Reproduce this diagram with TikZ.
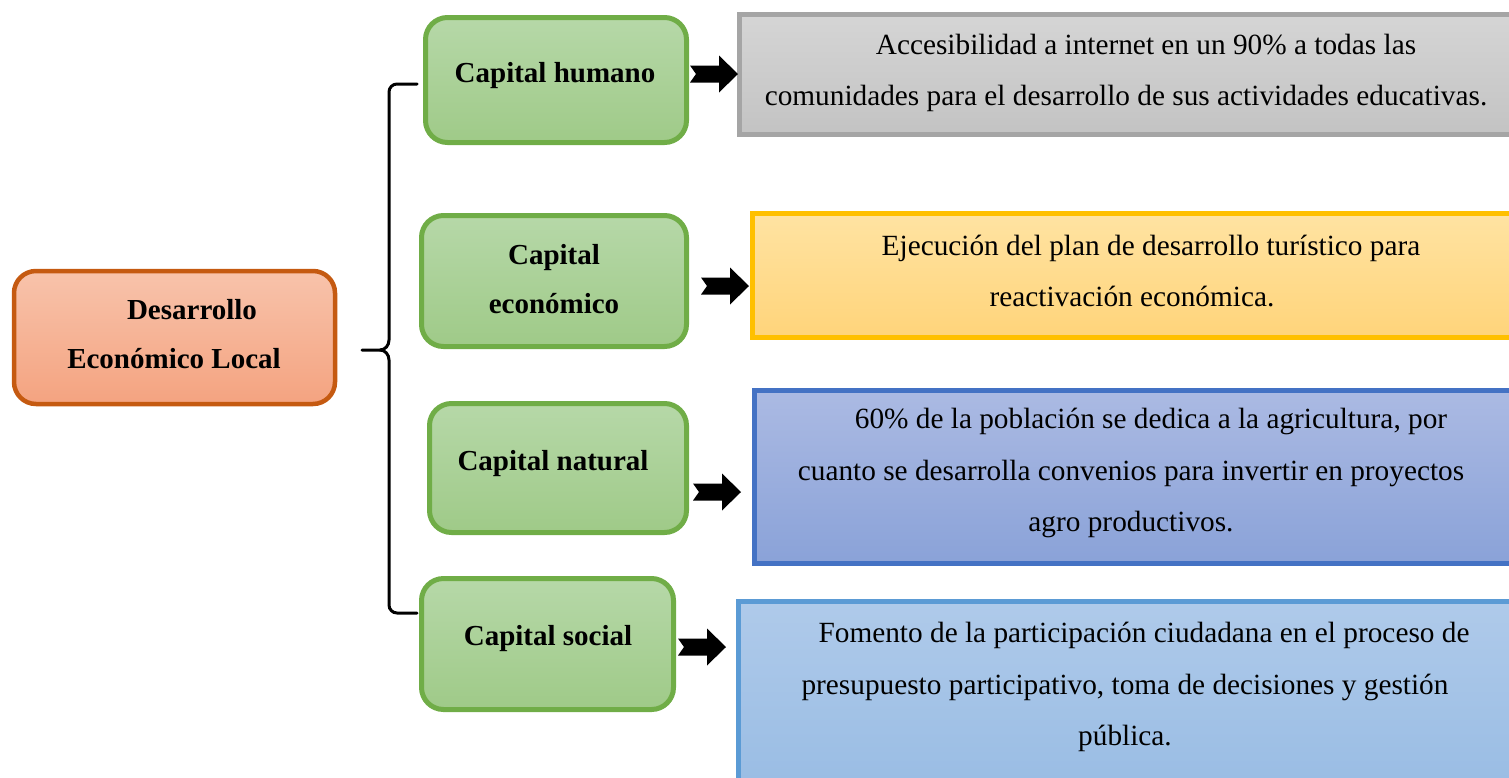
\documentclass[tikz,border=0pt]{standalone}
\usepackage{fontspec}
\setmainfont{Liberation Serif}
\definecolor{cgreen}{HTML}{70AD47}
\definecolor{cgreenT}{HTML}{B6D8A8}
\definecolor{cgreenB}{HTML}{9FCA88}
\definecolor{corange}{HTML}{C55A11}
\definecolor{corangeT}{HTML}{F8C3AB}
\definecolor{corangeB}{HTML}{F4A380}
\definecolor{cgray}{HTML}{A5A5A5}
\definecolor{cgrayT}{HTML}{D5D5D5}
\definecolor{cgrayB}{HTML}{C3C3C3}
\definecolor{cyel}{HTML}{FFC000}
\definecolor{cyelT}{HTML}{FFE3A2}
\definecolor{cyelB}{HTML}{FFD47A}
\definecolor{cblue}{HTML}{4472C4}
\definecolor{cblueT}{HTML}{ABBAE3}
\definecolor{cblueB}{HTML}{8AA2D8}
\definecolor{clblue}{HTML}{5B9BD5}
\definecolor{clblueT}{HTML}{AFCAEA}
\definecolor{clblueB}{HTML}{9ABDE4}
\begin{document}
\begin{tikzpicture}[x=1pt,y=-1pt,
  gbox/.style={draw=cgreen, line width=5pt, rounded corners=22pt, top color=cgreenT, bottom color=cgreenB, inner sep=0pt},
  obox/.style={draw=corange, line width=4.5pt, rounded corners=22pt, top color=corangeT, bottom color=corangeB, inner sep=0pt},
  rbox/.style={line width=5pt, inner sep=0pt},
  lbl/.style={font=\fontsize{29}{49.5}\selectfont\bfseries, align=center, inner sep=0pt},
  body/.style={font=\fontsize{29.3}{51.5}\selectfont, align=center, inner sep=0pt},
  blockarrow/.pic={\fill[black] (0,-8.5) -- (6,0) -- (0,8.5) -- (29,8.5) -- (29,18.5) -- (48,0) -- (29,-18.5) -- (29,-8.5) -- cycle;}
]
\useasboundingbox (0,0) rectangle (1509,777);

% left box
\node[obox, minimum width=321pt, minimum height=133pt] (del) at (174.5,337.5) {};
\node[lbl] (delt) at (174,334) {\hspace*{36pt}Desarrollo\\Económico Local};

% green boxes
\node[gbox, minimum width=261pt, minimum height=125pt] (hum) at (556,80) {};
\node[gbox, minimum width=265pt, minimum height=131pt] (eco) at (554,281) {};
\node[gbox, minimum width=257pt, minimum height=129pt] (nat) at (558,468) {};
\node[gbox, minimum width=252pt, minimum height=131pt] (soc) at (547.5,644) {};
\node[lbl] (humt) at (555,76) {Capital humano};
\node[lbl] (ecot) at (554,279) {Capital\\económico};
\node[lbl] (natt) at (553,464) {Capital natural};
\node[lbl] (soct) at (548,639) {Capital social};

% right boxes
\node[rbox, draw=cgray, top color=cgrayT, bottom color=cgrayB, minimum width=775.5pt, minimum height=120pt] (r1) at (1127.25,74.5) {};
\node[rbox, draw=cyel, top color=cyelT, bottom color=cyelB, minimum width=762.5pt, minimum height=124pt] (r2) at (1133.75,275.5) {};
\node[rbox, draw=cblue, top color=cblueT, bottom color=cblueB, minimum width=760.5pt, minimum height=173pt] (r3) at (1134.75,477) {};
\node[rbox, draw=clblue, top color=clblueT, bottom color=clblueB, minimum width=776.5pt, minimum height=180pt] (r4) at (1126.75,691.5) {};

\node[body] (r1t) at (1126,73) {\hspace*{40pt}Accesibilidad a internet en un 90\% a todas las\\comunidades para el desarrollo de sus actividades educativas.};
\node[body] (r2t) at (1132,271) {\hspace*{38pt}Ejecución del plan de desarrollo turístico para\\reactivación económica.};
\node[body] (r3t) at (1131,473) {\hspace*{40pt}60\% de la población se dedica a la agricultura, por\\cuanto se desarrolla convenios para invertir en proyectos\\agro productivos.};
\node[body] (r4t) at (1125,687) {\hspace*{38pt}Fomento de la participación ciudadana en el proceso de\\presupuesto participativo, toma de decisiones y gestión\\pública.};

% brace
\coordinate (bt) at (417,84);
\coordinate (bb) at (417,613);
\coordinate (bm) at (362,350);
\draw[line width=3pt, line cap=round]
  (bt) -- (397,84) to[out=180,in=90] (389,92) -- (389,340) to[out=-90,in=0] (380,350) -- (bm);
\draw[line width=3pt, line cap=round]
  (380,350) to[out=0,in=90] (389,360) -- (389,605) to[out=-90,in=180] (397,613) -- (bb);

% block arrows
\pic at (690,74) {blockarrow};
\pic at (701,286) {blockarrow};
\pic at (693,492) {blockarrow};
\pic at (678,647) {blockarrow};
\end{tikzpicture}
\end{document}
